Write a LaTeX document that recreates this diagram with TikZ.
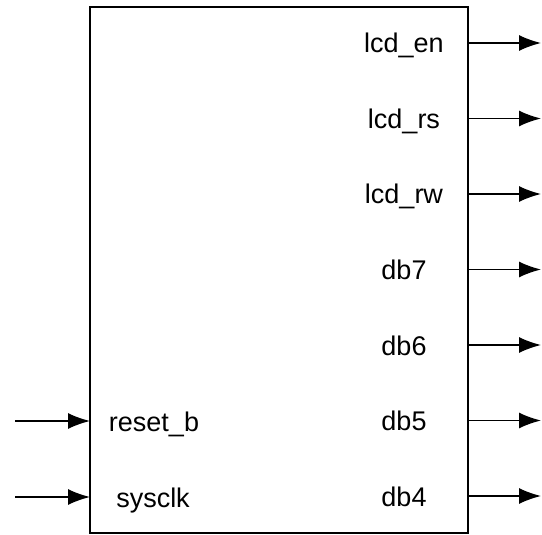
\documentclass[tikz,border=0pt]{standalone}
\usepackage{fontspec}
\setmainfont{Liberation Sans}
\usetikzlibrary{arrows.meta}
\begin{document}
\begin{tikzpicture}[x=1pt,y=-1pt,>={Latex[length=22pt,width=16pt]},line width=1.4pt,
  font=\fontsize{27}{32}\selectfont]
\useasboundingbox (0,0) rectangle (542,535);
\node(Blk)[draw, line width=1.8pt, rectangle, minimum width=378pt, minimum height=526pt, inner sep=0pt] at (279,270) {};

\node(En)[anchor=base] at (404,53) {lcd\_en};
\node(Rs)[anchor=base] at (404,128.5) {lcd\_rs};
\node(Rw)[anchor=base] at (404,204) {lcd\_rw};
\node(D7)[anchor=base] at (404,279.5) {db7};
\node(D6)[anchor=base] at (404,355) {db6};
\node(D5)[anchor=base] at (404,430.5) {db5};
\node(D4)[anchor=base] at (404,506) {db4};
\node(Rst)[anchor=base] at (154,431) {reset\_b};
\node(Clk)[anchor=base] at (153,507) {sysclk};

\coordinate(En0) at (468,43);    \coordinate(En1) at (541,43);
\coordinate(Rs0) at (468,118.5); \coordinate(Rs1) at (541,118.5);
\coordinate(Rw0) at (468,194);   \coordinate(Rw1) at (541,194);
\coordinate(D70) at (468,269.5); \coordinate(D71) at (541,269.5);
\coordinate(D60) at (468,345);   \coordinate(D61) at (541,345);
\coordinate(D50) at (468,420.5); \coordinate(D51) at (541,420.5);
\coordinate(D40) at (468,496);   \coordinate(D41) at (541,496);
\coordinate(Rst0) at (15,421);   \coordinate(Rst1) at (90,421);
\coordinate(Clk0) at (15,497);   \coordinate(Clk1) at (90,497);

\draw (En0) edge[->] (En1);
\draw (Rs0) edge[->] (Rs1);
\draw (Rw0) edge[->] (Rw1);
\draw (D70) edge[->] (D71);
\draw (D60) edge[->] (D61);
\draw (D50) edge[->] (D51);
\draw (D40) edge[->] (D41);
\draw (Rst0) edge[->] (Rst1);
\draw (Clk0) edge[->] (Clk1);
\end{tikzpicture}
\end{document}
